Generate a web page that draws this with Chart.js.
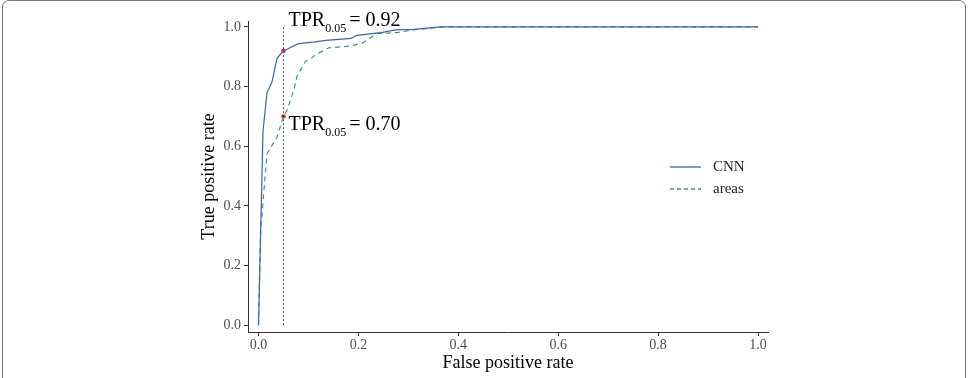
<!DOCTYPE html>
<html>
<head>
<meta charset="utf-8">
<script src="https://cdn.jsdelivr.net/npm/chart.js@4.4.1/dist/chart.umd.min.js"></script>
<style>
  html, body { margin: 0; padding: 0; background: #fff; overflow: hidden; }
  #wrap { position: relative; width: 978px; height: 378px; }
  #frame {
    position: absolute; left: 2px; top: 0px; width: 964px; height: 420px;
    border: 1.5px solid #7a7a7a; border-radius: 7px; box-sizing: border-box;
  }
  canvas { position: absolute; left: 0; top: 0; }
</style>
</head>
<body>
<div id="wrap">
  <div id="frame"></div>
  <canvas id="roc" width="978" height="378"></canvas>
</div>
<script>
// ROC curves
const cnnFpr = [0, 0.009, 0.017, 0.027, 0.037, 0.05, 0.057, 0.08, 0.11, 0.135, 0.185, 0.197, 0.245, 0.275, 0.31, 0.365, 1.0];
const cnnTpr = [0, 0.65, 0.78, 0.815, 0.895, 0.92, 0.925, 0.944, 0.949, 0.955, 0.962, 0.972, 0.981, 0.99, 0.992, 1.0, 1.0];

const areasFpr = [0, 0.004, 0.017, 0.037, 0.05, 0.057, 0.071, 0.077, 0.094, 0.104, 0.117, 0.141, 0.184, 0.207, 0.237, 0.277, 0.31, 0.37, 1.0];
const areasTpr = [0, 0.31, 0.575, 0.63, 0.70, 0.72, 0.79, 0.835, 0.885, 0.893, 0.91, 0.93, 0.936, 0.945, 0.978, 0.981, 0.99, 1.0, 1.0];

const seriesNames = ['CNN', 'areas'];
const cutFpr = 0.05;
const cutTpr = [0.92, 0.70];
const tickValues = [0, 0.2, 0.4, 0.6, 0.8, 1.0];

const cnnColor = '#4262a8';
const areasColor = '#3f9c72';
const serif = '"Liberation Serif", "DejaVu Serif", serif';

function toPoints(xs, ys) {
    return xs.map((x, i) => ({ x: x, y: ys[i] }));
}

// legend + TPR labels drawn on top
const notes = {
    id: 'notes',
    afterDraw(chart) {
        const ctx = chart.ctx;
        const xs = chart.scales.x, ys = chart.scales.y;
        ctx.save();
        ctx.fillStyle = '#000';
        ctx.textAlign = 'left';
        ctx.textBaseline = 'alphabetic';
        const offsets = [-25, 14];
        cutTpr.forEach((v, i) => {
            let px = xs.getPixelForValue(cutFpr) + 5;
            const base = ys.getPixelForValue(v) + offsets[i];
            ctx.font = '20px ' + serif;
            ctx.fillText('TPR', px, base);
            px += ctx.measureText('TPR').width;
            ctx.font = '12px ' + serif;
            ctx.fillText('0.05', px, base + 6);
            px += ctx.measureText('0.05').width + 3;
            ctx.font = '20px ' + serif;
            ctx.fillText('= ' + v.toFixed(2), px, base);
        });

        // legend
        const colors = [cnnColor, areasColor];
        const dashes = [[], [4, 3]];
        const rows = [167, 189];
        ctx.font = '15px ' + serif;
        ctx.textBaseline = 'middle';
        seriesNames.forEach((name, i) => {
            ctx.strokeStyle = colors[i];
            ctx.lineWidth = 1.3;
            ctx.setLineDash(dashes[i]);
            ctx.beginPath();
            ctx.moveTo(670, rows[i]);
            ctx.lineTo(701, rows[i]);
            ctx.stroke();
            ctx.setLineDash([]);
            ctx.fillStyle = '#222';
            ctx.fillText(name, 713, rows[i]);
        });
        ctx.restore();
    }
};

function axisOpts(title, min, max) {
    return {
        type: 'linear',
        min: min,
        max: max,
        afterBuildTicks: (scale) => { scale.ticks = tickValues.map(v => ({ value: v })); },
        ticks: {
            callback: (v) => Number(v).toFixed(1),
            color: '#4d4d4d',
            font: { family: serif, size: 14 },
            padding: 3,
            maxRotation: 0,
            autoSkip: false
        },
        grid: { drawOnChartArea: false, drawTicks: true, tickLength: 4, color: '#333' },
        border: { display: true, color: '#333', width: 1 },
        title: { display: true, text: title, color: '#000', font: { family: serif, size: 18 }, padding: 0 }
    };
}

const xAxis = axisOpts('False positive rate', -0.021, 1.02);
xAxis.ticks.padding = 1;
xAxis.afterFit = (scale) => { scale.height = 42; };
const yAxis = axisOpts('True positive rate', -0.023, 1.02);
yAxis.afterFit = (scale) => { scale.width = 50; };

new Chart(document.getElementById('roc'), {
    type: 'line',
    data: {
        datasets: [
            {
                label: seriesNames[0],
                data: toPoints(cnnFpr, cnnTpr),
                borderColor: cnnColor,
                borderWidth: 1.2,
                pointRadius: 0,
                tension: 0
            },
            {
                label: seriesNames[1],
                data: toPoints(areasFpr, areasTpr),
                borderColor: areasColor,
                borderWidth: 1.2,
                borderDash: [5, 4],
                pointRadius: 0,
                tension: 0
            },
            {
                label: 'cut',
                data: [{ x: cutFpr, y: 0 }, { x: cutFpr, y: 1 }],
                borderColor: '#555',
                borderWidth: 1,
                borderDash: [2, 2],
                pointRadius: 0
            },
            {
                label: 'tpr',
                data: cutTpr.map(v => ({ x: cutFpr, y: v })),
                showLine: false,
                pointRadius: 2.2,
                pointBackgroundColor: '#e0201c',
                pointBorderWidth: 0
            }
        ]
    },
    options: {
        responsive: false,
        animation: false,
        devicePixelRatio: 1,
        layout: { padding: { left: 198, right: 210, top: 21, bottom: 4 } },
        plugins: { legend: { display: false }, tooltip: { enabled: false } },
        scales: { x: xAxis, y: yAxis }
    },
    plugins: [notes]
});
</script>
</body>
</html>
